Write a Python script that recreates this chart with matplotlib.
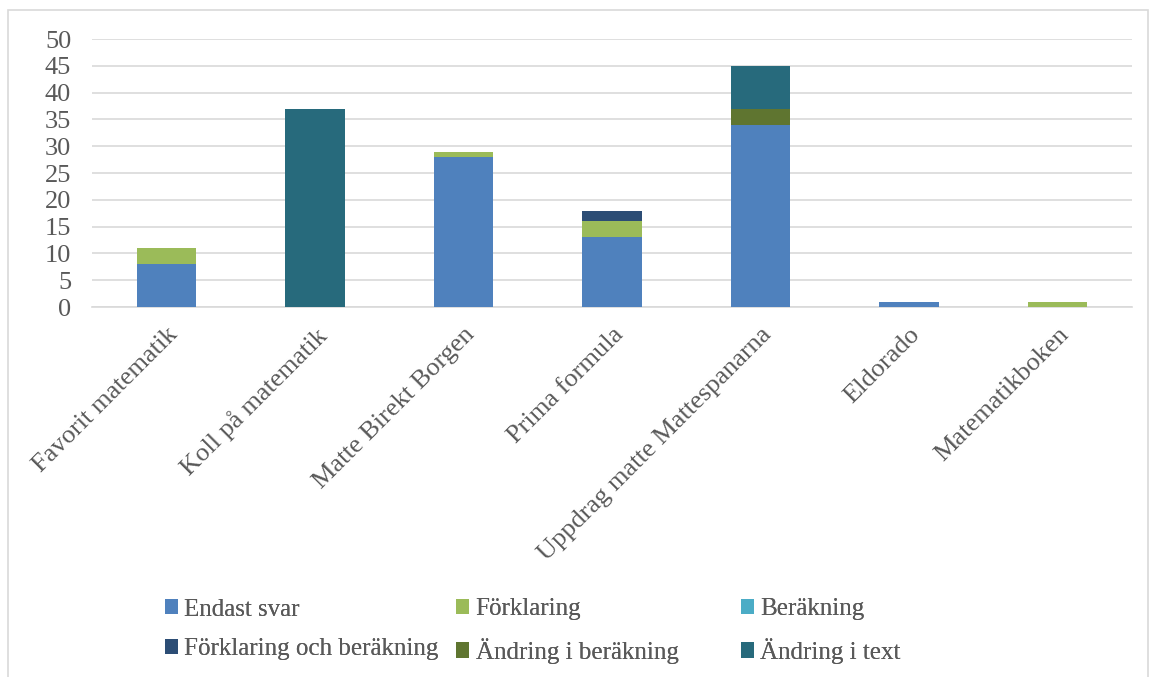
import numpy as np
import matplotlib
matplotlib.use('Agg')
import matplotlib.pyplot as plt
from matplotlib.patches import Rectangle

# Läromedel och typ av uppgift
categories = ['Favorit matematik', 'Koll på matematik', 'Matte Birekt Borgen',
              'Prima formula', 'Uppdrag matte Mattespanarna', 'Eldorado', 'Matematikboken']
endast_svar = [8, 0, 28, 13, 34, 1, 0]
forklaring = [3, 0, 1, 3, 0, 0, 1]
berakning = [0, 0, 0, 0, 0, 0, 0]
forkl_och_ber = [0, 0, 0, 2, 0, 0, 0]
andring_ber = [0, 0, 0, 0, 3, 0, 0]
andring_text = [0, 37, 0, 0, 8, 0, 0]

series = [
    ('Endast svar', endast_svar, '#4F81BD'),
    ('Förklaring', forklaring, '#9BBB59'),
    ('Beräkning', berakning, '#4BACC6'),
    ('Förklaring och beräkning', forkl_och_ber, '#2C4D75'),
    ('Ändring i beräkning', andring_ber, '#5F7530'),
    ('Ändring i text', andring_text, '#276A7C'),
]

plt.rcParams['font.family'] = ['Liberation Serif', 'DejaVu Serif']
txt_color = '#595959'

fig = plt.figure(figsize=(11.51, 6.77), dpi=100)
fig.patches.append(Rectangle((8 / 1151, -0.01), 1140 / 1151, 1 - 10 / 677 + 0.01,
                             transform=fig.transFigure, fill=False,
                             edgecolor='#D9D9D9', lw=1.2))

ax = fig.add_axes([92 / 1151, 1 - 307 / 677, (1132 - 92) / 1151, (307 - 39) / 677])
x = np.arange(len(categories))
bottom = np.zeros(len(categories))
handles = {}
for name, vals, col in series:
    vals = np.array(vals, dtype=float)
    b = ax.bar(x, vals, 0.4, bottom=bottom, color=col, label=name, zorder=3)
    handles[name] = b
    bottom += vals

ax.set_xlim(-0.5, len(categories) - 0.5)
ax.set_ylim(0, 50)
ax.set_yticks(np.arange(0, 51, 5))
ax.yaxis.grid(True, color='#D9D9D9', lw=1.2, zorder=0)
ax.set_axisbelow(True)
for s in ['top', 'right', 'left']:
    ax.spines[s].set_visible(False)
ax.spines['bottom'].set_color('#D9D9D9')
ax.spines['bottom'].set_linewidth(1.2)
ax.tick_params(axis='both', length=0, colors=txt_color, labelsize=19)
ax.tick_params(axis='y', pad=15)
ax.set_xticks(x)
ax.set_xticklabels(categories, rotation=45, ha='right', rotation_mode='anchor', fontsize=19)
ax.tick_params(axis='x', pad=12)

# legend: three columns of equal width, as in the original
cols = [['Endast svar', 'Förklaring och beräkning'],
        ['Förklaring', 'Ändring i beräkning'],
        ['Beräkning', 'Ändring i text']]
xs = [152, 443, 728]
for cx, names in zip(xs, cols):
    leg = fig.legend([handles[n] for n in names], names, loc='upper left',
                     bbox_to_anchor=(cx / 1151, 1 - 586 / 677), frameon=False,
                     fontsize=18, handlelength=0.55, handleheight=0.55, handletextpad=0.25,
                     labelspacing=0.7, borderpad=0, labelcolor=txt_color)
    fig.add_artist(leg)

fig.savefig('out.png', dpi=100)
